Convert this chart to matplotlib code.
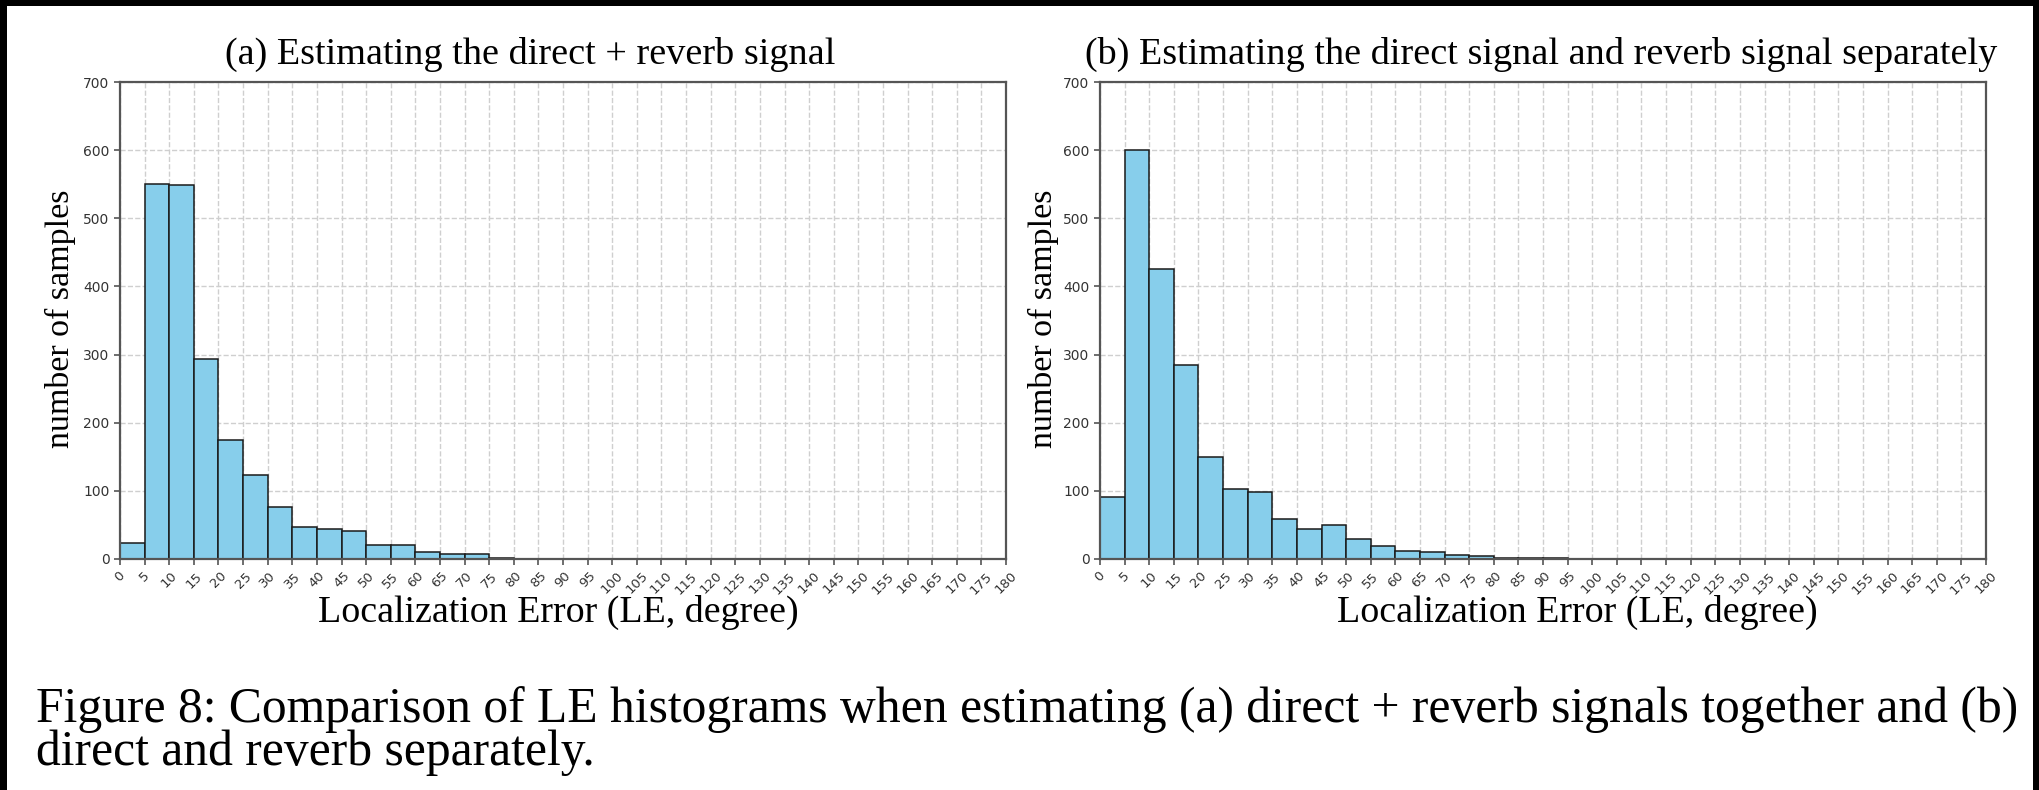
import numpy as np
import matplotlib
matplotlib.use("Agg")
import matplotlib.pyplot as plt
from matplotlib.patches import Rectangle

# Histogram bin edges (degrees) and counts per 5-degree bin
bin_edges = list(range(0, 185, 5))
counts_joint = [24, 551, 549, 294, 175, 124, 77, 47, 44, 41, 20, 21, 10, 8, 7, 2,
                0, 0, 0, 0, 0, 0, 0, 0, 0, 0, 0, 0, 0, 0, 0, 0, 0, 0, 0, 0]
counts_separate = [91, 600, 426, 284, 150, 102, 98, 59, 44, 50, 29, 19, 12, 10, 6, 4,
                   2, 1, 1, 0, 0, 0, 0, 0, 0, 0, 0, 0, 0, 0, 0, 0, 0, 0, 0, 0]
xtick_values = list(range(0, 185, 5))
ytick_values = [0, 100, 200, 300, 400, 500, 600, 700]

titles = ["(a) Estimating the direct + reverb signal",
          "(b) Estimating the direct signal and reverb signal separately"]
xlabel = "Localization Error (LE, degree)"
ylabel = "number of samples"
caption_lines = ["Figure 8: Comparison of LE histograms when estimating (a) direct + reverb signals together and (b)",
                 "direct and reverb separately."]

W, H = 2039, 790
fig = plt.figure(figsize=(W / 100, H / 100), dpi=100)
fig.patch.set_facecolor("black")
fig.add_artist(Rectangle((7 / W, 0), (2033 - 7) / W, 1 - 6 / H,
                         transform=fig.transFigure, facecolor="white",
                         edgecolor="none", zorder=-10))

serif = ["Liberation Serif", "DejaVu Serif"]

def px_axes(x0, x1, ytop, ybot):
    return [x0 / W, 1 - ybot / H, (x1 - x0) / W, (ybot - ytop) / H]

axes_boxes = [px_axes(120, 1006, 82, 559), px_axes(1100, 1986, 82, 559)]
series = [counts_joint, counts_separate]

for box, counts in zip(axes_boxes, series):
    ax = fig.add_axes(box)
    ax.hist(bin_edges[:-1], bins=bin_edges, weights=counts,
            color="#87CEEB", edgecolor="#1a1a1a", linewidth=1.1, zorder=2)
    ax.set_xlim(0, 180)
    ax.set_ylim(0, 700)
    ax.set_xticks(xtick_values)
    ax.set_xticklabels([str(v) for v in xtick_values], rotation=45,
                       fontsize=9.5, color="#333333")
    ax.set_yticks(ytick_values)
    ax.set_yticklabels([str(v) for v in ytick_values], fontsize=10, color="#333333")
    ax.grid(True, linestyle="--", color="#cfcfcf", linewidth=1.0, zorder=0)
    ax.set_axisbelow(True)
    for sp in ax.spines.values():
        sp.set_color("#555555")
        sp.set_linewidth(1.6)
    ax.tick_params(axis="both", colors="#555555", length=4, width=1.2,
                   labelcolor="#333333")

# Panel titles and axis labels
fig.text(530 / W, 1 - 54 / H, titles[0], family=serif, fontsize=27.5,
         ha="center", va="center")
fig.text(1541 / W, 1 - 54 / H, titles[1], family=serif, fontsize=27.5,
         ha="center", va="center")
for cx in (558, 1577):
    fig.text(cx / W, 1 - 612 / H, xlabel, family=serif, fontsize=27.3,
             ha="center", va="center")
for cx in (60, 1043):
    fig.text(cx / W, 1 - 319 / H, ylabel, family=serif, fontsize=24.5,
             rotation=90, ha="center", va="center")

# Figure caption
fig.text(36 / W, 1 - 710 / H, caption_lines[0], family=serif, fontsize=35.7,
         ha="left", va="center")
fig.text(36 / W, 1 - 753 / H, caption_lines[1], family=serif, fontsize=35.7,
         ha="left", va="center")

fig.savefig("out.png", dpi=100, facecolor=fig.get_facecolor())
